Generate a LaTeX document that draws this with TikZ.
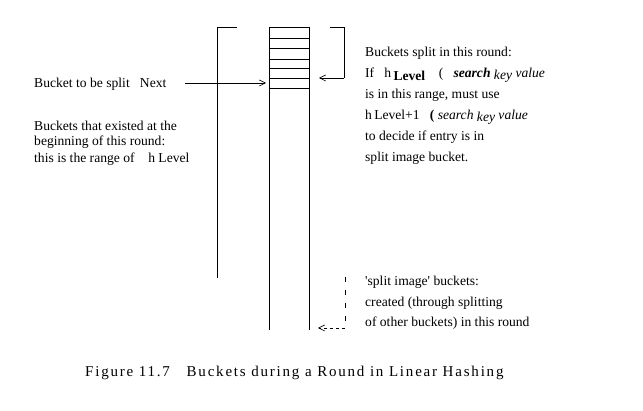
\documentclass[tikz,border=0pt]{standalone}
\usepackage{fontspec}
\setmainfont{Liberation Serif}
\usetikzlibrary{arrows.meta}
\newcommand\sq{\XeTeXglyph\numexpr\XeTeXcharglyph"0027\relax}
\tikzset{
  txt/.style={anchor=base west, inner sep=0pt, font=\fontsize{13.6}{15}\selectfont},
  wall/.style={line width=0.9pt},
  ptr/.style={line width=0.6pt, -{Straight Barb[length=6pt,width=6pt]}},
}
\begin{document}
\begin{tikzpicture}[x=1pt,y=-1pt]
			%%%%% START %%%%%
			\useasboundingbox (0,0) rectangle (643,411);
			
			% bucket column
			\draw[wall] (269,27) -- (269,330);
			\draw[wall] (309,27) -- (309,330);
			\foreach \yy in {27,38,48,59,68,78,88}
			  \draw[wall] (269,\yy) -- (309,\yy);
			
			% left bracket
			\draw[line width=0.7pt] (237,27) -- (217,27) -- (217,278);
			
			% right bracket
			\coordinate (splitend) at (319,78);
			\draw[line width=0.7pt] (330,27) -- (344,27) -- (344,78) coordinate (splitcorner);
			\draw[ptr] (splitcorner) -- (splitend);
			
			% dashed bracket
			\coordinate (imgtop) at (345,277);
			\coordinate (imgcorner) at (345,328);
			\coordinate (imgend) at (318,328);
			\draw[line width=0.6pt, dash pattern=on 5pt off 8pt] (imgtop) -- (imgcorner);
			\draw[ptr, dashed] (imgcorner) -- (imgend);
			
			% left texts
			\node[txt] (next) at (34,88) {Bucket to be split\ \ \ Next};
			\coordinate (nexttip) at (266,83);
			\draw[ptr] (185,83) coordinate (nextstart) -- (nexttip);
			\node[txt] (old1) at (34,131) {Buckets that existed at the};
			\node[txt] (old2) at (34,146) {beginning of this round:};
			\node[txt] (old3) at (34,163) {this is the range of\ \ \ \ h Level};
			
			% right texts
			\node[txt] (sp1) at (365,57) {Buckets split in this round:};
			\node[txt] (sp2) at (365,78) {If\ \ \ h\,\raisebox{-2.5pt}{\textbf{Level}}\ \ \ \ (\ \ \ \textit{\textbf{search}} \raisebox{-1.5pt}{\textit{key}} \textit{value}};
			\node[txt] (sp3) at (365,99) {is in this range, must use};
			\node[txt] (sp4) at (365,120) {h\,Level+1\ \ \ \textbf{(}\ \textit{search} \raisebox{-1.5pt}{\textit{key}} \textit{value}};
			\node[txt] (sp5) at (365,141) {to decide if entry is in};
			\node[txt] (sp6) at (365,162) {split image bucket.};
			
			% bottom texts
			\node[txt] (im1) at (365,286) {\sq split image\sq{} buckets:};
			\node[txt] (im2) at (365,307) {created (through splitting};
			\node[txt] (im3) at (365,327) {of other buckets) in this round};
			
			% caption
			\node[txt, font=\fontsize{15}{17}\selectfont\addfontfeatures{LetterSpace=12}] (cap) at (85,377)
			  {Figure 11.7\ \ \ Buckets during a Round in Linear Hashing};
			
			%%%%% END %%%%%
\end{tikzpicture}
\end{document}
